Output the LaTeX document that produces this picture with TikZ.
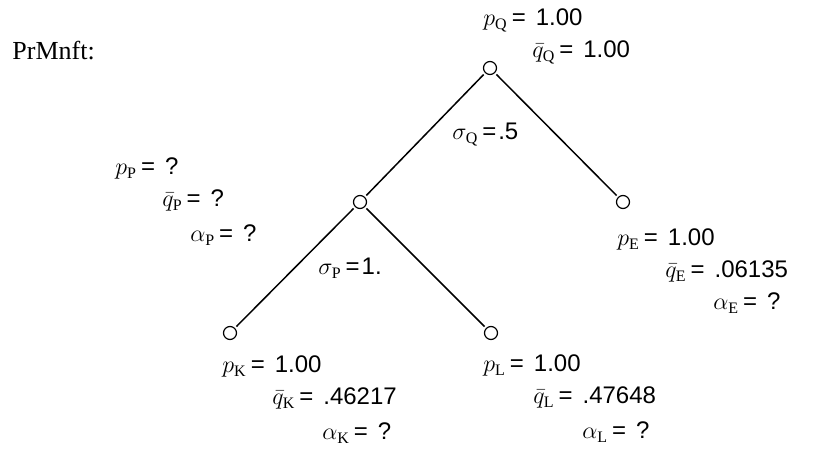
\documentclass[tikz,border=0pt]{standalone}
\usepackage{fontspec}
\setmainfont{Liberation Serif}
\setsansfont{Liberation Sans}
\usepackage{tikz}

\newcommand{\is}{\kern2pt=\kern5pt}

\begin{document}
\begin{tikzpicture}[x=0.5pt, y=-0.5pt, font=\sffamily\fontsize{12}{16}\selectfont]
    \tikzstyle{vertex} = [draw, circle, inner sep=0pt, minimum size=6.5pt, line width=0.6pt]
    \tikzstyle{branch} = [line width=0.75pt, shorten <=1pt, shorten >=1pt]
    \tikzstyle{info} = [anchor=base west, align=left, inner sep=0pt]
    \useasboundingbox (0,0) rectangle (826,459);

    \node [font=\rmfamily\fontsize{13}{15}\selectfont, anchor=base west, inner sep=0pt] (title) at (12,60) {PrMnft:};

    % tree
    \node [vertex] (Q) at (490,68) {};
    \node [vertex] (P) at (360,202) {};
    \node [vertex] (E) at (623,202) {};
    \node [vertex] (K) at (230,333) {};
    \node [vertex] (L) at (491,333) {};

    \draw [branch] (Q) -- (P);
    \draw [branch] (Q) -- (E);
    \draw [branch] (P) -- (K);
    \draw [branch] (P) -- (L);

    \node [info] (sigQ) at (452,140) {$\sigma_{\mathrm{Q}}$\kern2pt=\kern1pt.5};
    \node [info] (sigP) at (318,275) {$\sigma_{\mathrm{P}}$\kern2pt=\kern1pt1.};

    % node values (base = last line)
    \node [info] (infoQ) at (483,58) {$p_{\mathrm{Q}}$\is1.00\\\hspace*{24.5pt}$\bar{q}_{\mathrm{Q}}$\is1.00};
    \node [info] (infoP) at (115,242) {$p_{\mathrm{P}}$\is?\\\hspace*{23.5pt}$\bar{q}_{\mathrm{P}}$\is?\\[1.5pt]\hspace*{37.5pt}$\alpha_{\mathrm{P}}$\is?};
    \node [info] (infoE) at (617,310) {$p_{\mathrm{E}}$\is1.00\\\hspace*{24pt}$\bar{q}_{\mathrm{E}}$\is.06135\\\hspace*{48pt}$\alpha_{\mathrm{E}}$\is?};
    \node [info] (infoK) at (222,440) {$p_{\mathrm{K}}$\is1.00\\\hspace*{25pt}$\bar{q}_{\mathrm{K}}$\is.46217\\[1.5pt]\hspace*{50pt}$\alpha_{\mathrm{K}}$\is?};
    \node [info] (infoL) at (483,439) {$p_{\mathrm{L}}$\is1.00\\\hspace*{25pt}$\bar{q}_{\mathrm{L}}$\is.47648\\[1.5pt]\hspace*{49.5pt}$\alpha_{\mathrm{L}}$\is?};
\end{tikzpicture}
\end{document}
